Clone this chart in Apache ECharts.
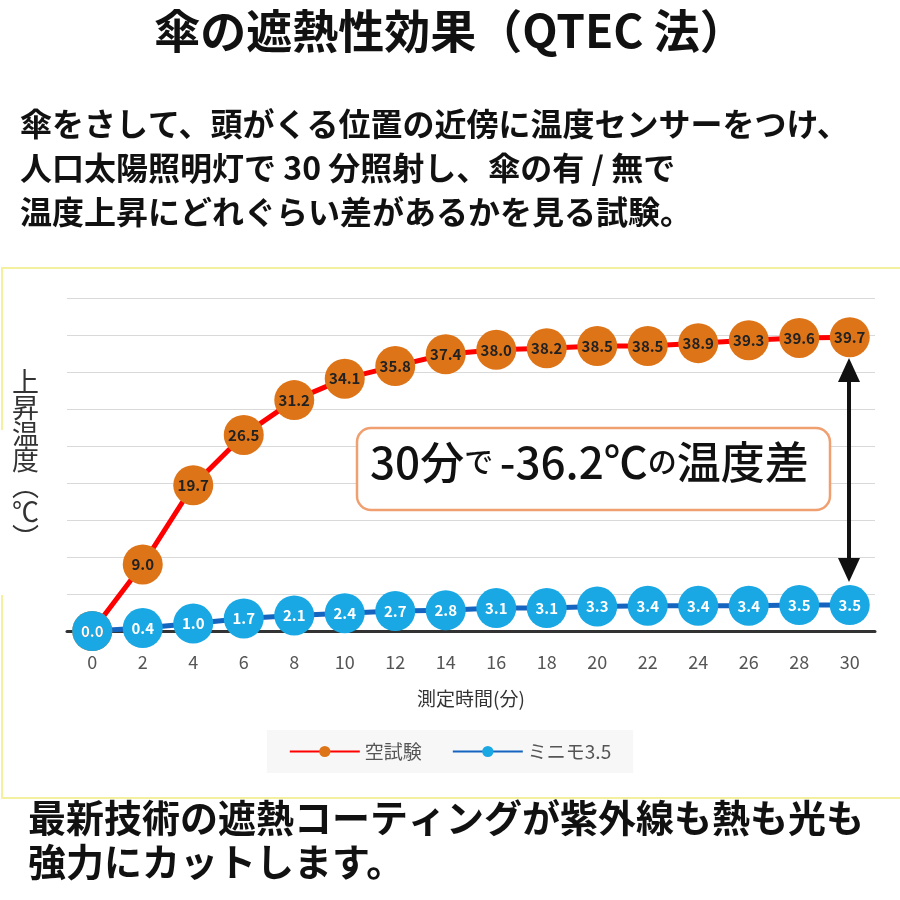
<!DOCTYPE html>
<html><head><meta charset="utf-8">
<script src="https://cdn.jsdelivr.net/npm/echarts@6/dist/echarts.min.js"></script>
<style>body{margin:0;background:#fff}#c{width:900px;height:900px}</style>
</head><body><div id="c"></div>
<script>
var minutes = ['0','2','4','6','8','10','12','14','16','18','20','22','24','26','28','30'];
var blank = [0.0,9.0,19.7,26.5,31.2,34.1,35.8,37.4,38.0,38.2,38.5,38.5,38.9,39.3,39.6,39.7];
var minimo = [0.0,0.4,1.0,1.7,2.1,2.4,2.7,2.8,3.1,3.1,3.3,3.4,3.4,3.4,3.5,3.5];

var F = '"Noto Sans CJK JP", sans-serif';
var chart = echarts.init(document.getElementById('c'));
chart.setOption({
  animation: false,
  textStyle: {fontFamily: F},
  grid: {left: 67, right: 25, top: 298, height: 333},
  legend: {
    top: 730, left: 'center', itemWidth: 70, itemHeight: 14, itemGap: 30,
    backgroundColor: '#f7f7f7', padding: [12, 22],
    textStyle: {fontSize: 19, color: '#555', fontFamily: F},
    data: ['空試験', 'ミニモ3.5']
  },
  xAxis: {
    type: 'category', data: minutes,
    name: '測定時間(分)', nameLocation: 'middle', nameGap: 58,
    nameTextStyle: {fontSize: 19, color: '#333'},
    axisLine: {lineStyle: {color: '#333', width: 3}},
    axisTick: {show: false},
    axisLabel: {fontSize: 18, color: '#555', margin: 22}
  },
  yAxis: {
    type: 'value', min: 0, max: 45, interval: 5,
    axisLabel: {show: false}, axisLine: {show: false}, axisTick: {show: false},
    splitLine: {lineStyle: {color: '#d9d9d9'}}
  },
  series: [
    {name: '空試験', type: 'line', data: blank, symbol: 'circle', symbolSize: 40,
     lineStyle: {color: '#ff0000', width: 5}, itemStyle: {color: '#de7418'},
     label: {show: true, position: 'inside', color: '#222', fontWeight: 'bold', fontSize: 15,
       formatter: function (p) { return p.value.toFixed(1); }}},
    {name: 'ミニモ3.5', type: 'line', data: minimo, symbol: 'circle', symbolSize: 40,
     lineStyle: {color: '#1565c0', width: 5}, itemStyle: {color: '#1aa8e4'},
     label: {show: true, position: 'inside', color: '#fff', fontWeight: 'bold', fontSize: 15,
       formatter: function (p) { return p.value.toFixed(1); }}}
  ],
  graphic: [
    {type: 'text', left: 'center', top: 8, style: {text: '傘の遮熱性効果（QTEC 法）', font: 'bold 46px ' + F, fill: '#111'}},
    {type: 'text', left: 20, top: 102, style: {text: '傘をさして、頭がくる位置の近傍に温度センサーをつけ、\n人口太陽照明灯で 30 分照射し、傘の有 / 無で\n温度上昇にどれぐらい差があるかを見る試験。',
      font: 'bold 32px ' + F, lineHeight: 44, fill: '#111'}},
    {type: 'rect', shape: {x: 2, y: 268, width: 920, height: 530}, style: {fill: 'none', stroke: '#f3f0a0', lineWidth: 2}, z: -1},
    {type: 'rect', shape: {x: 0, y: 430, width: 8, height: 165}, style: {fill: '#fff'}, z: 0},
    {type: 'text', left: 12, top: 368, style: {text: '上\n昇\n温\n度\n︵\n℃\n︶', font: '27px ' + F, lineHeight: 26, fill: '#333'}},
    {type: 'rect', shape: {x: 357, y: 428, width: 473, height: 82, r: 14}, style: {fill: '#fff', stroke: '#f0a070', lineWidth: 2.5}, z: 10},
    {type: 'text', left: 370, top: 440, z: 11, style: {rich: {a: {font: '500 44px ' + F, fill: '#111'}, b: {font: '500 29px ' + F, fill: '#111'}},
      text: '{a|30分}{b|で }{a|-36.2℃}{b|の}{a|温度差}'}},
    {type: 'line', shape: {x1: 849, y1: 370, x2: 849, y2: 570}, style: {stroke: '#111', lineWidth: 4}, z: 10},
    {type: 'polygon', shape: {points: [[849, 358], [838, 382], [860, 382]]}, style: {fill: '#111'}, z: 10},
    {type: 'polygon', shape: {points: [[849, 582], [838, 558], [860, 558]]}, style: {fill: '#111'}, z: 10},
    {type: 'text', left: 28, top: 796, style: {text: '最新技術の遮熱コーティングが紫外線も熱も光も\n強力にカットします。',
      font: 'bold 38px ' + F, lineHeight: 44, fill: '#111'}}
  ]
});
</script></body></html>
